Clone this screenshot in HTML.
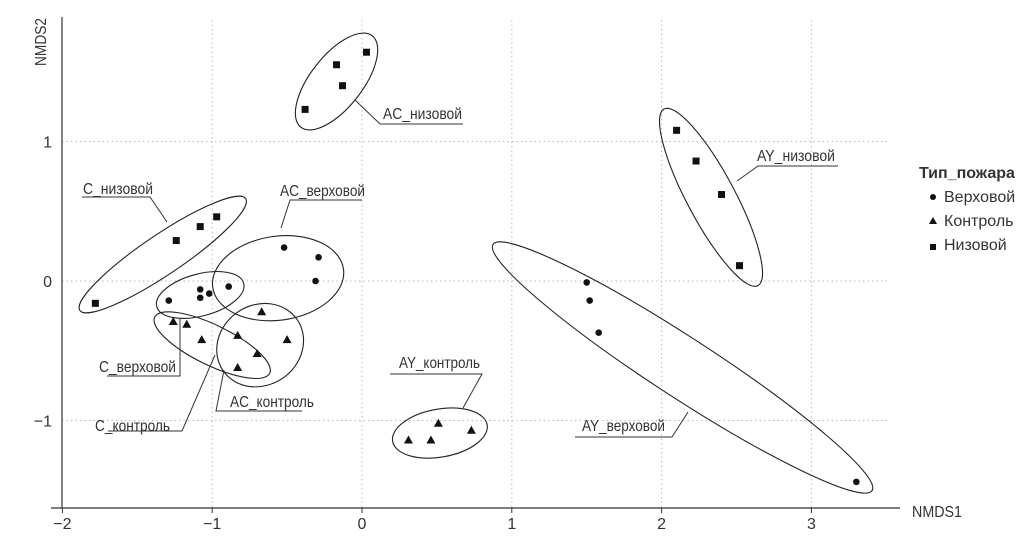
<!DOCTYPE html>
<html><head><meta charset="utf-8"><style>
body{margin:0;background:#fff}
svg text{font-family:"Liberation Sans Narrow","Liberation Sans",sans-serif;fill:#333}
</style></head><body>
<svg id="c" width="1024" height="534" xmlns="http://www.w3.org/2000/svg"></svg>
<script>
const xTicks=[-2,-1,0,1,2,3];
const yTicks=[-1,0,1];
const sqX=[-0.38,-0.17,-0.13,0.03,-1.78,-1.24,-1.08,-0.97,2.10,2.23,2.40,2.52];
const sqY=[1.23,1.55,1.40,1.64,-0.16,0.29,0.39,0.46,1.08,0.86,0.62,0.11];
const ciX=[1.50,1.52,1.58,3.30,-0.52,-0.29,-0.31,-0.89,-1.29,-1.08,-1.02,-1.08];
const ciY=[-0.01,-0.14,-0.37,-1.44,0.24,0.17,0.00,-0.04,-0.14,-0.06,-0.09,-0.12];
const trX=[-1.26,-1.17,-1.07,-0.83,-0.70,-0.83,-0.67,-0.50,0.31,0.46,0.51,0.73];
const trY=[-0.29,-0.31,-0.42,-0.39,-0.52,-0.62,-0.22,-0.42,-1.14,-1.14,-1.02,-1.07];
const elNames=["AC_низовой","C_низовой","AC_верховой","C_верховой","C_контроль","AC_контроль","AY_низовой","AY_верховой","AY_контроль"];
const elCX=[-0.17,-1.33,-0.56,-1.08,-1.00,-0.68,2.33,2.14,0.52];
const elCY=[1.43,0.19,0.02,-0.10,-0.46,-0.46,0.60,-0.62,-1.09];
const elRX=[58,100,66,45,64,45,100,226,48];
const elRY=[26,20,42,21,20,40,24,30,24];
const elAng=[-52,-34,-8,-15,26,-35,62,33,-10];
const X=v=>362+v*149.8, Y=v=>281-v*139.5;
const svg=document.getElementById('c');
const NS="http://www.w3.org/2000/svg";
function mk(t,a,txt){const e=document.createElementNS(NS,t);for(const k in a)e.setAttribute(k,a[k]);if(txt!=null)e.textContent=txt;svg.appendChild(e);return e;}
xTicks.slice(1).forEach(t=>{const e=mk('line',{x1:X(t),x2:X(t),y1:20,y2:508,stroke:'#bbb','stroke-dasharray':'1.5,3'});

});
yTicks.forEach(t=>{const e=mk('line',{x1:62,x2:890,y1:Y(t),y2:Y(t),stroke:'#bbb','stroke-dasharray':'1.5,3'});

});
let a=mk('line',{x1:51,x2:900,y1:508,y2:508,stroke:'#333','stroke-width':1.2});


a=mk('line',{x1:62,x2:62,y1:17,y2:508,stroke:'#333','stroke-width':1.2});


xTicks.forEach(t=>{mk('line',{x1:X(t),x2:X(t),y1:508,y2:513,stroke:'#333'});
const e=mk('text',{x:X(t),y:529,'text-anchor':'middle','font-size':16},t<0?'\u2212'+(-t):t);

});
yTicks.forEach(t=>{const e=mk('text',{x:52,y:Y(t)+6,'text-anchor':'end','font-size':16},t<0?'\u2212'+(-t):t);

});
a=mk('text',{x:912,y:517,'font-size':16,textLength:50,lengthAdjust:'spacingAndGlyphs'},'NMDS1');


a=mk('text',{x:46,y:66,'font-size':16,transform:'rotate(-90 46 66)',textLength:48,lengthAdjust:'spacingAndGlyphs'},'NMDS2');


elNames.forEach((n,i)=>{const cx=X(elCX[i]),cy=Y(elCY[i]);
const e=mk('ellipse',{cx:cx,cy:cy,rx:elRX[i],ry:elRY[i],fill:'none',stroke:'#222','stroke-width':1.1,transform:`rotate(${elAng[i]} ${cx} ${cy})`});

});
sqX.forEach((v,i)=>{const e=mk('rect',{x:X(v)-3.5,y:Y(sqY[i])-3.5,width:7,height:7,fill:'#111'});

});
ciX.forEach((v,i)=>{const e=mk('circle',{cx:X(v),cy:Y(ciY[i]),r:3.3,fill:'#111'});

});
trX.forEach((v,i)=>{const x=X(v),y=Y(trY[i]);const e=mk('polygon',{points:`${x},${y-4.5} ${x-4.5},${y+3.5} ${x+4.5},${y+3.5}`,fill:'#111'});

});
const L=[["AC_низовой",383,119,"M355,100 L380,124 L463,124",79],
["AY_низовой",757,161,"M737,181 L758,166 L838,166",78],
["C_низовой",83,194,"M167,222 L150,197 L82,197",70],
["AC_верховой",280,196,"M281,228 L290,200 L362,200",85],
["C_верховой",99,372,"M180,318 L180,376 L107,376",77],
["C_контроль",95,431,"M215,355 L182,431 L108,431",75],
["AC_контроль",230,407,"M224,370 L216,411 L302,411",84],
["AY_контроль",399,368,"M463,408 L482,374 L390,374",81],
["AY_верховой",582,431,"M688,412 L672,437 L575,437",83]];
L.forEach(l=>{const p=mk('path',{d:l[3],fill:'none',stroke:'#333','stroke-width':1});


const t=mk('text',{x:l[1],y:l[2],'font-size':16,textLength:l[4],lengthAdjust:'spacingAndGlyphs'},l[0]);

});
a=mk('text',{x:919,y:178,'font-size':16,'font-weight':'bold'},'Тип_пожара');


a=mk('circle',{cx:933,cy:197,r:3,fill:'#111'});


a=mk('polygon',{points:'933,217 929,224 937,224',fill:'#111'});


a=mk('rect',{x:930,y:244,width:6,height:6,fill:'#111'});


[["Верховой",202],["Контроль",226],["Низовой",250]].forEach(e=>{const t=mk('text',{x:944,y:e[1],'font-size':16},e[0]);

});
</script>
</body></html>
